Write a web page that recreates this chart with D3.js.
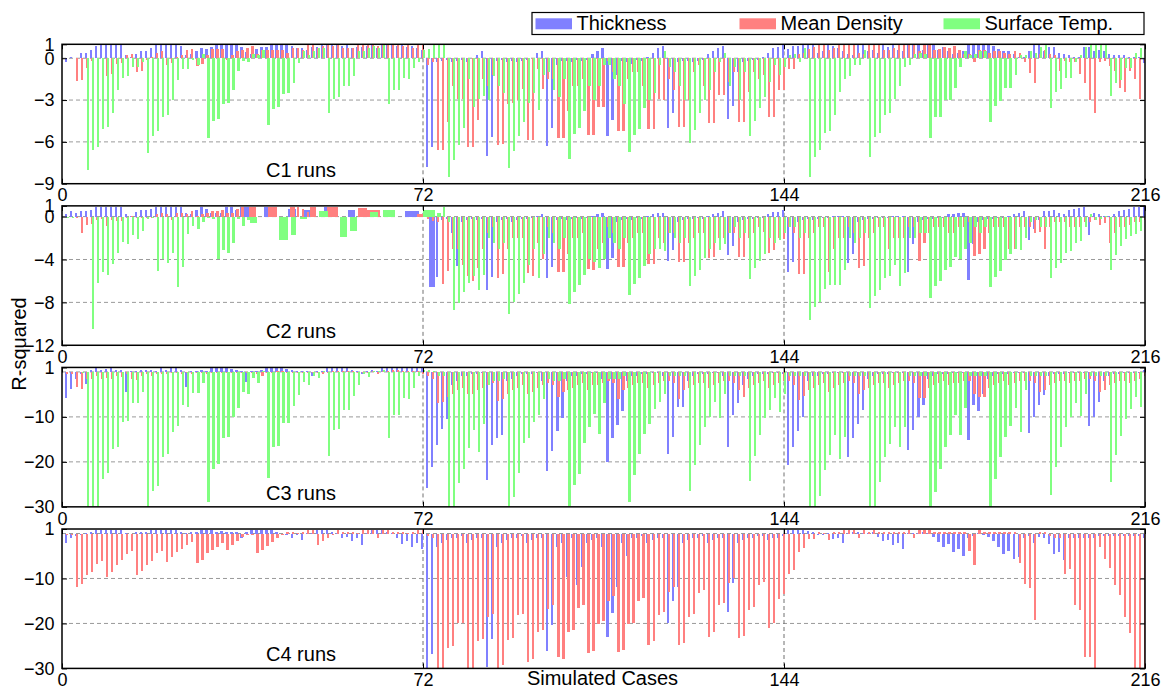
<!DOCTYPE html>
<html><head><meta charset="utf-8">
<script src="https://cdn.jsdelivr.net/npm/d3@7"></script>
<style>
body{margin:0;background:#fff}
text{font-family:"Liberation Sans",Arial,Helvetica,sans-serif;fill:#000}
</style>
</head><body>
<svg id="chart" width="1164" height="690"></svg>
<script>
// ---------------- DATA ----------------
const seriesNames = ["Thickness", "Mean Density", "Surface Temp."];
const panelLabels = ["C1 runs", "C2 runs", "C3 runs", "C4 runs"];
const xTickValues = [0, 72, 144, 216];
const yTicksC1 = [1, 0, -3, -6, -9];
const yTicksC2 = [1, 0, -4, -8, -12];
const yTicksC3 = [1, -10, -20, -30];
const yTicksC4 = [1, -10, -20, -30];
const caseNumbers = d3.range(1, 217);

// C1
const c1Thickness = [
-0.3,0.1,0,0.4,0.4,0.6,0.9,1.0,1.0,1.0,1.0,1.0,
0.2,0.1,0.3,0.5,0.5,0.7,1.0,1.0,1.0,1.0,1.0,0.9,
0.2,0.3,0.5,0.75,0.65,0.8,0.95,1.0,1.0,1.0,1.0,0.8,
0.45,0.3,0.65,0.8,0.8,1.0,1.0,1.0,1.0,0.9,0.75,0.75,
0.6,0.8,0.8,1.0,1.0,1.0,1.0,0.9,1.0,0.75,0.8,0.8,
0.9,1.0,0.75,1.0,1.0,1.0,0.9,1.0,0.8,0.9,0.75,0.6,
-7.8,-6.35,-0.3,-0.2,-0.1,-0.3,-0.2,-0.1,-0.3,0,0.2,0.5,
-7.0,-5.65,-0.2,-0.1,-0.3,-0.2,-0.3,-0.2,-0.1,0,0.35,0.5,
-6.3,-5.0,-0.5,-0.2,-0.2,-0.3,-0.1,-0.2,-0.1,0.3,0.5,0.7,
-5.6,-4.4,-1.2,-0.2,-0.3,-0.4,-0.1,-0.2,0.1,0.4,0.7,0.85,
-5.0,-3.9,-0.3,-0.2,-0.2,-0.3,-0.2,-0.1,0.3,0.5,0.7,0.9,
-4.35,-3.4,-1.0,-0.3,-0.2,-0.1,-0.1,0.1,0.4,0.75,0.8,1.0,
0.65,0.85,0.85,1.0,1.0,1.0,0.4,0.5,1.0,0.85,0.7,0.5,
0.3,0.2,1.0,1.0,0.5,0.6,0.4,1.0,0.8,1.0,0.6,0.5,
1.0,1.0,1.0,0.6,1.0,1.0,0.6,0.8,0.5,0.3,0.4,0.5,
1.0,1.0,1.0,1.0,1.0,0.85,0.65,0.5,0.5,0.3,0.1,0.1,
0.5,1.0,1.0,0.5,0.8,0.8,0.4,0.3,0.2,0.1,0.1,0.8,
0.8,0.5,0.6,0.5,0.3,0.2,0.25,0.2,0.1,0.1,0.1,-0.35];
const c1Density = [
0,0,-1.6,-1.55,-0.7,-0.2,0,0,-1.25,-1.1,-0.4,-0.35,
0.25,0.3,-1.0,-0.95,-0.15,0.1,0.4,0.5,-0.5,-0.35,0.1,0.2,
0.6,0.65,-0.55,-0.4,0.25,0.65,0.65,0.65,-0.1,0.2,0.55,0.6,
0.75,0.9,0.3,0.6,0.6,0.6,0.6,0.6,0.35,0.75,0.75,0.6,
1.0,1.0,0.7,0.85,1.0,0.85,1.0,0.7,0.7,0.7,1.0,1.0,
1.0,1.0,0.85,1.0,1.0,1.0,1.0,0.9,1.0,0.7,1.0,1.0,
-0.5,-0.3,-6.6,-6.6,-4.55,-2.0,-2.9,-2.9,-6.4,-6.35,-4.4,-1.5,
-2.0,-1.2,-6.2,-6.15,-3.3,-3.2,-3.0,-2.2,-5.85,-5.85,-0.8,-2.2,
-1.5,-1.5,-5.75,-5.75,-3.8,-2.0,-2.0,-1.5,-5.5,-5.5,-3.5,-3.5,
-0.2,-1.0,-5.25,-5.25,-1.5,-1.0,-1.0,-2.0,-5.05,-5.05,-2.95,-3.0,
-1.5,-2.3,-4.95,-4.95,-3.0,-1.0,-0.5,-2.0,-4.65,-4.65,-2.65,-2.65,
-1.7,-1.0,-4.55,-4.55,-2.4,-1.0,-1.5,-1.2,-4.25,-4.25,-2.3,-2.3,
-0.8,-0.75,0.3,0.4,0.65,0.8,1.0,1.0,0.6,0.7,1.0,1.0,
1.0,1.0,0.4,0.3,1.0,1.0,1.0,0.6,0.6,0.7,1.0,1.0,
1.0,1.0,0.5,1.0,1.0,0.6,0.65,0.8,0.7,0.85,0.6,0.3,
0.3,-0.3,0.6,0.6,0.4,0.5,0.5,0.4,0.3,0.55,0.35,-0.3,
-1.05,-1.75,0.3,0.6,0.3,0.2,-0.9,-0.2,-0.3,-0.25,-1.1,-1.75,
-3.0,-3.9,-0.3,-0.2,-0.55,-0.9,-2.1,-2.45,-0.95,-1.5,-2.9,-0.3];
const c1Temp = [
0,0,0,0,-8.0,-6.6,-6.35,-5.1,-4.95,-3.9,-2.3,-1.4,
-1.3,-0.65,-0.6,-0.3,-6.8,-5.55,-5.25,-4.2,-4.05,-3.0,-1.55,-0.75,
-0.75,-0.15,-0.5,0.3,-5.7,-4.5,-4.35,-3.3,-3.2,-2.3,-0.9,-0.2,
-0.25,0.3,0.25,0.6,-4.8,-3.65,-3.5,-2.6,-2.5,-1.75,-0.35,0.5,
0.2,0.55,0.7,0.7,-3.95,-2.95,-2.8,-2.0,-2.0,-1.25,0.5,0.5,
0.75,0.85,0.7,1.0,-3.25,-2.25,-2.25,-1.4,-1.5,-0.7,-0.25,0.6,
0.65,0.95,0.95,1.0,-8.55,-7.3,-6.2,-5.0,-1.5,-3.5,-2.9,-2.7,
-3.0,-1.3,-2.0,-2.5,-7.9,-6.65,-5.6,-4.55,-3.2,-2.5,-3.7,-1.2,
-1.0,-2.3,-2.8,-1.5,-7.25,-5.4,-5.0,-3.8,-2.0,-3.0,-2.0,-0.5,
-0.5,-1.5,-2.0,-3.3,-6.7,-5.5,-5.05,-3.55,-3.0,-2.5,-0.5,0.5,
-0.6,-1.0,-2.0,-3.0,-6.1,-5.15,-3.95,-3.0,-2.3,-1.0,-0.3,0.4,
-2.0,-0.6,-3.0,-1.0,-5.55,-4.5,-3.6,-2.75,-1.7,-0.5,-1.2,-0.6,
0.2,0.3,-0.3,0.75,-8.55,-7.1,-6.6,-5.35,-5.2,-4.05,-2.4,-1.5,
-1.3,-0.5,-0.5,0.6,-7.05,-5.65,-5.35,-4.1,-3.95,-2.95,-2.0,-0.65,
-0.5,0.3,0.4,0.3,-5.75,-4.2,-4.2,-3.0,-3.0,-2.1,-0.65,0.5,
0.2,0.3,0.5,0.5,-4.6,-3.45,-3.1,-2.15,-2.15,-1.2,0.2,0.2,
0.5,0.4,0.8,1.0,-3.55,-2.45,-2.2,-1.4,-1.4,-0.3,0.2,0.8,
1.0,1.0,1.0,1.0,-2.7,-1.75,-1.55,-0.7,-0.7,0.4,0.7,0.3];

// C2 (null = no value for that case)
const c2Thickness = [
0.2,0.55,0.3,0.55,0.5,0.65,0.85,0.85,0.85,0.85,0.85,0.85,
0.2,0.1,0.45,0.6,0.6,0.75,0.85,0.85,0.85,0.85,0.85,0.85,
0.3,0.2,0.65,0.85,0.7,0.3,0.3,0.3,0.85,0.85,0.6,0.85,
0.85,null,null,null,0.85,0.6,null,null,null,0.7,null,null,
0.6,null,null,null,0.85,0.7,null,null,null,0.65,null,0.5,
null,0.5,null,null,null,null,null,null,null,0.55,null,null,
null,-6.6,-5.6,-0.3,-0.2,-1.5,-4.6,-0.5,-0.3,-0.2,-0.3,-0.2,
-6.8,-5.6,-0.5,-0.3,-0.2,-0.5,-0.3,-0.2,-0.2,-0.1,0.1,0.2,
-5.75,-4.7,-0.3,-0.2,-0.3,-0.2,-0.1,-0.2,-0.1,0.1,0.2,0.3,
-4.85,-3.9,-0.5,-0.3,-0.2,-0.3,-0.1,-0.2,0.1,0.2,0.3,0.3,
-4.1,-3.15,-0.5,-0.3,-0.2,-0.2,-0.1,-0.2,0.1,0.2,0.3,0.5,
-3.55,-2.7,-0.5,-0.3,-0.2,-0.2,-0.1,-0.1,0.2,0.45,0.45,0.6,
-5.15,-4.2,-0.5,-0.3,-0.2,-0.3,-0.2,-0.1,-0.1,0.1,0.1,0.1,
-4.35,-3.5,-0.5,-0.3,-0.2,-0.2,-0.1,-0.1,-0.1,0.1,0.1,0.1,
-5.2,-2.6,-0.5,-0.3,-0.2,-0.2,-0.1,-0.1,0.2,0.2,0.3,0.3,
-5.9,-2.6,-0.5,-0.3,-0.2,-0.2,-0.1,-0.1,0.1,0.2,0.3,0.5,
-2.15,-1.2,-0.3,0.5,0.5,0.6,0.3,0.2,0.6,0.75,0.8,0.9,
-1.7,0.3,0.2,0.1,0.1,0.2,0.5,0.6,0.7,0.9,0.9,0.9];
const c2Density = [
0,0,-0.1,-1.55,-0.8,-0.7,-0.3,-0.2,-0.9,-0.3,-0.45,-0.45,
-0.1,0.1,-0.1,-0.1,-0.15,-0.15,0.2,0.35,0.2,-0.35,0.35,0.35,
0.2,0.55,0.1,0.2,0.3,0.55,0.55,0.65,0.3,0.3,0.75,0.9,
null,0.85,null,null,null,0.85,null,null,null,0.9,0.9,0.7,
0.4,0.9,null,null,null,0.9,null,null,null,null,null,0.8,
null,0.65,null,null,null,null,null,null,null,null,null,0.25,
-0.2,-0.4,-0.5,-6.3,-5.1,-3.0,-3.0,-4.5,-5.5,-6.05,-4.8,-3.0,
-1.5,-1.0,-5.75,-5.4,-3.0,-2.0,-2.0,-2.0,-5.3,-5.5,-2.5,-4.0,
-1.0,-1.5,-5.2,-5.2,-3.5,-2.0,-2.0,-1.5,-4.9,-5.0,-3.0,-2.5,
-1.0,-1.5,-4.7,-4.7,-2.5,-2.0,-1.5,-1.5,-4.4,-4.4,-2.0,-2.5,
-1.5,-1.5,-4.2,-4.2,-2.5,-2.0,-1.5,-1.5,-3.9,-3.8,-2.0,-2.0,
-1.5,-1.5,-3.75,-3.75,-2.0,-1.5,-1.0,-1.45,-3.35,-3.15,-2.0,-2.05,
-1.0,-1.5,-5.35,-5.35,-2.0,-1.5,-1.0,-1.0,-5.15,-3.0,-2.0,-2.0,
-1.0,-1.5,-4.75,-4.65,-2.0,-1.5,-1.0,-1.0,-3.0,-2.0,-2.0,-2.0,
-1.0,-1.0,-4.15,-2.5,-1.5,-1.0,-1.0,-1.0,-1.5,-1.5,-1.0,-1.0,
-0.5,-3.65,-3.5,-3.0,-1.5,-1.0,-1.0,-1.0,-3.0,-3.0,-1.0,-1.0,
-1.0,-1.5,-1.4,-3.05,-1.0,-0.5,-0.5,-0.5,-1.0,-1.0,-1.0,-0.5,
-0.5,-0.3,-0.75,-0.6,-2.5,-1.5,-1.0,-1.0,-0.8,-0.5,-0.5,-0.3];
const c2Temp = [
-0.1,-0.1,0,0,0,-10.5,-6.15,-5.15,-5.45,-4.4,-3.4,-2.35,
-2.6,-1.7,-2.05,-1.3,-0.2,-0.1,-5.1,-4.0,-4.3,-3.4,-6.6,-4.7,
-1.65,-0.9,-1.15,-0.5,-0.1,-0.2,-4.0,-3.1,-3.4,-2.5,-0.2,-0.85,
-0.3,-0.6,null,null,null,null,null,-2.15,null,-1.75,null,-0.2,
null,null,null,0.5,null,null,null,-1.9,null,-1.3,null,null,
null,0.4,null,null,0.65,null,null,null,null,null,null,null,
0.65,null,0.3,0.9,-0.5,-8.75,-8.05,-7.0,-6.15,-5.5,-6.8,-5.45,
-2.0,-2.5,-3.0,-2.5,-9.05,-7.95,-7.2,-6.15,-4.5,-3.0,-5.7,-3.5,
-2.0,-2.5,-3.0,-2.0,-8.15,-7.0,-6.4,-5.45,-4.0,-4.2,-4.75,-4.0,
-2.0,-2.5,-3.0,-2.0,-7.35,-6.3,-5.75,-4.6,-3.5,-3.0,-3.0,-3.2,
-1.5,-2.0,-2.5,-2.0,-6.5,-5.5,-5.0,-3.9,-3.0,-2.5,-3.1,-2.6,
-1.5,-1.0,-2.0,-1.5,-5.8,-4.75,-4.15,-3.45,-2.0,-2.45,-2.2,-1.5,
-1.0,-1.0,-2.0,-1.5,-9.65,-8.45,-7.95,-6.75,-6.35,-6.35,-6.35,-5.0,
-2.0,-2.5,-2.0,-1.5,-8.5,-7.45,-6.85,-5.75,-5.55,-4.5,-6.5,-5.25,
-2.0,-2.0,-1.5,-1.5,-7.6,-6.45,-6.0,-5.0,-4.7,-3.75,-3.95,-3.0,
-2.5,-1.0,-1.5,-1.0,-6.6,-5.6,-5.1,-4.05,-3.5,-3.0,-3.1,-2.0,
-0.5,-0.3,-1.0,-1.0,-5.75,-4.75,-4.3,-3.35,-3.2,-2.5,-2.3,-1.0,
0.2,-0.3,-0.2,0.1,-5.0,-3.55,-2.75,-2.1,-1.8,-1.6,-1.3,-1.0];

// C3
const c3Thickness = [
-5.9,-3.9,-1.5,-0.5,-2.6,0.5,0.8,0.5,0.6,0.8,0.5,0.5,
-4.4,0.2,0.3,0.5,0.5,0.4,0.3,0.8,0.5,0.9,0.8,0.5,
-3.3,0.2,0.3,0.5,0.3,0.8,0.8,0.8,0.8,0.6,0.5,0.3,
-2.2,0.3,0.3,0.5,0.8,0.8,0.8,0.8,0.6,0.5,0.3,0.3,
0.3,-0.8,0.3,0.3,0.8,0.8,0.8,0.8,0.8,0.5,0.3,-0.5,
0.3,0.5,0.3,0.8,0.8,0.8,0.8,0.8,0.8,0.8,0.8,0.8,
-25.9,-21.1,-16.3,-12.6,-10.4,-3.0,-2.0,-1.0,-1.0,-0.5,-0.5,-0.3,
-24.1,-16.3,-14.8,-14.1,-2.0,-1.5,-1.0,-0.5,-0.5,-0.5,-0.3,-2.0,
-22.0,-17.6,-13.2,-10.2,-2.0,-1.0,-1.0,-0.5,-0.5,-0.3,-0.3,-1.5,
-20.1,-14.8,-11.9,-8.7,-2.0,-1.0,-1.0,-0.5,-0.5,-0.3,-0.3,-1.0,
-18.3,-14.4,-7.8,-7.8,-2.0,-1.0,-0.5,-0.5,-0.5,-0.3,-0.3,-1.0,
-16.8,-9.5,-6.9,-3.0,-1.5,-1.0,-0.5,-0.5,-0.5,-0.3,-0.3,-0.5,
-20.7,-16.7,-13.1,-10.0,-2.0,-1.0,-1.0,-0.5,-0.5,-0.3,-0.3,-0.3,
-18.9,-14.8,-11.5,-8.5,-1.5,-1.0,-0.5,-0.5,-0.5,-0.3,-0.3,-0.3,
-17.3,-13.0,-10.0,-7.4,-1.5,-1.0,-0.5,-0.5,-0.5,-0.3,-0.3,-0.3,
-15.2,-7.4,-8.7,-5.0,-1.5,-1.0,-0.5,-0.5,-0.5,-0.3,-0.3,-0.3,
-13.5,-10.1,-7.4,-5.2,-1.0,-0.5,-0.5,-0.5,-0.3,-0.3,-0.3,-0.3,
-12.0,-10.0,-6.7,-2.0,-1.0,-0.5,-0.5,-0.3,-0.3,-0.3,-0.3,0.5];
const c3Density = [
-0.5,-0.5,-3.3,-3.7,-1.5,-1.5,-1.0,-1.5,-1.3,-1.5,-1.0,-1.2,
-0.5,-1.5,-1.8,-1.0,-0.5,-0.8,-0.5,-0.5,-0.5,-0.3,-0.3,-0.5,
-0.3,-0.5,-0.3,-0.3,-0.5,-0.3,-0.2,-0.3,-0.3,-0.2,-0.2,-0.3,
-0.2,-0.2,-0.4,-0.9,-0.3,-0.2,0.2,0.2,-0.2,-0.2,-0.2,-0.3,
-0.2,-0.2,-0.2,-0.5,-0.2,0.2,0.2,0.2,0.2,0.1,-0.2,-0.2,
-0.2,0.3,-0.5,0.3,0.3,0.5,0.5,0.3,0.2,0.2,0.3,-0.5,
-1.0,-1.5,-6.9,-6.7,-5.5,-5.0,-4.0,-3.5,-5.0,-5.0,-4.0,-3.5,
-3.0,-2.5,-6.5,-6.0,-5.0,-4.0,-3.5,-3.0,-5.0,-4.5,-3.5,-3.0,
-2.5,-3.0,-5.5,-4.5,-4.0,-3.5,-3.0,-2.5,-4.0,-3.0,-3.0,-2.5,
-2.0,-2.5,-6.0,-4.0,-3.5,-3.0,-2.5,-2.5,-3.5,-3.0,-2.5,-2.0,
-2.0,-2.5,-6.0,-4.0,-3.5,-3.0,-2.5,-2.5,-3.5,-3.0,-2.5,-2.0,
-2.0,-2.5,-4.0,-5.5,-3.5,-3.0,-2.5,-2.0,-3.5,-3.0,-2.5,-2.0,
-2.0,-3.0,-6.3,-5.3,-4.0,-3.5,-3.0,-2.5,-4.5,-3.5,-3.0,-2.5,
-2.0,-2.5,-5.0,-4.0,-3.5,-3.0,-2.5,-2.5,-3.5,-3.0,-2.5,-2.0,
-2.0,-2.5,-5.8,-5.8,-3.5,-3.0,-2.5,-2.0,-3.0,-2.5,-2.5,-2.0,
-2.0,-5.0,-5.5,-5.5,-3.5,-3.0,-2.5,-2.0,-3.0,-2.5,-2.0,-2.0,
-2.0,-2.5,-4.5,-4.0,-3.0,-2.5,-2.0,-2.0,-2.5,-2.0,-2.0,-1.5,
-1.5,-2.0,-4.5,-4.0,-3.0,-2.5,-2.0,-2.0,-2.5,-2.0,-1.5,-1.0];
const c3Temp = [
0,0,0,-0.3,-30,-30,-30,-23.7,-22.4,-17.2,-16.7,-11.1,
-10.8,-7.0,-7.0,-4.4,-30,-26.5,-25.3,-18.9,-18.3,-13.3,-12.0,-7.25,
-7.8,-4.6,-4.6,-2.4,-28.9,-21.5,-20.4,-14.8,-14.4,-10.0,-8.1,-4.4,
-4.8,-1.3,-2.4,0.2,-23.6,-16.8,-16.4,-11.3,-11.3,-7.55,-5.2,-2.2,
-2.8,-1.0,-1.3,0.3,-18.7,-12.9,-12.6,-8.5,-8.4,-5.3,-3.0,-0.4,
-1.1,0.2,0.3,0.5,-14.7,-9.6,-9.6,-5.8,-6.1,-3.5,-1.0,0.5,
0.5,0.3,-1.0,-1.0,-30,-30,-24.8,-21.5,-16.9,-13.0,-17.8,-11.5,
-3.0,-2.0,-2.0,-1.5,-29.8,-27.8,-22.4,-15.9,-14.8,-11.1,-9.6,-6.0,
-1.5,-2.0,-2.0,-1.5,-29.8,-25.2,-22.6,-15.9,-12.2,-9.3,-13.9,-7.0,
-1.5,-1.5,-1.5,-1.0,-29.0,-22.9,-18.3,-13.9,-11.5,-8.3,-6.7,-5.0,
-1.0,-1.0,-1.0,-1.0,-26.5,-20.7,-16.3,-12.2,-10.0,-6.7,-10.2,-5.0,
-1.0,-1.0,-1.0,-1.0,-24.2,-18.7,-14.1,-10.2,-8.4,-5.7,-8.9,-5.0,
-1.0,-1.0,-1.0,-1.0,-30,-30,-27.6,-21.9,-18.5,-14.1,-19.3,-14.4,
-1.0,-1.0,-1.0,-1.0,-30,-30,-24.4,-18.9,-16.1,-12.2,-16.7,-12.2,
-1.0,-1.0,-1.0,-1.0,-30,-26.7,-21.5,-16.7,-14.1,-9.6,-14.1,-8.1,
-1.0,-1.0,-1.0,-1.0,-30,-23.7,-18.9,-14.4,-12.0,-8.1,-13.3,-4.0,
-1.0,-1.0,-1.0,-1.0,-27.3,-21.1,-16.7,-12.2,-10.0,-7.0,-9.85,-5.0,
-1.0,-1.0,-1.0,-1.0,-24.4,-18.5,-14.3,-10.4,-8.3,-5.6,-7.9,-1.0];

// C4 (no Surface Temp. bars in this panel)
const c4Thickness = [
-2.0,-0.9,-0.5,-0.3,0.1,0.4,0.8,0.8,0.8,0.8,0.8,0.8,
0.1,0.0,0.3,0.4,0.4,0.8,0.8,0.8,0.8,0.8,0.8,0.3,
0.1,0.4,0.4,0.8,0.8,0.8,0.4,0.6,0.4,0.4,0.4,-1.1,
0.4,0.8,0.8,0.8,0.8,0.8,0.4,0.0,-0.4,-0.9,-0.4,-1.4,
0.2,0.2,0.8,0.8,0.8,0.4,0.2,-1.1,-0.7,-1.6,-1.1,-2.5,
0.2,0.8,0.8,0.8,0.3,0.2,-0.9,-2.4,-1.6,-2.9,-2.2,-3.5,
-30,-26.8,-3.0,-2.0,-1.5,-1.0,-1.0,-0.5,-2.0,-1.5,-1.0,-1.0,
-29.6,-23.5,-3.0,-2.0,-1.5,-1.0,-1.0,-0.5,-2.0,-1.5,-1.0,-1.0,
-26.1,-20.4,-3.0,-2.0,-9.7,-1.0,-11.5,-7.5,-2.0,-1.5,-1.0,-3.0,
-23.0,-17.6,-12.0,-2.0,-5.0,-1.0,-1.0,-0.5,-2.0,-1.5,-1.0,-1.0,
-20.0,-15.1,-12.0,-2.0,-1.5,-1.0,-1.0,-0.5,-2.0,-1.5,-1.0,-1.0,
-17.4,-11.0,-2.0,-1.5,-1.0,-1.0,-0.5,-0.5,-1.5,-1.0,-1.0,-0.5,
0.8,0.8,0.8,0.8,0.6,0.4,-0.3,-0.4,0.2,-1.25,-0.9,-2.0,
0.2,0.3,0.3,0.2,0.2,0.3,-0.7,-1.6,-1.4,-2.6,-2.2,-3.5,
0.2,0.2,0.2,0.3,0.2,-0.7,-1.8,-3.1,-2.4,-4.2,-3.5,-5.1,
-1.0,-0.5,0.2,-0.4,-0.7,-1.6,-3.1,-4.6,-4.0,-5.7,-5.3,-1.0,
-0.5,-2.0,-0.7,-0.9,-2.4,-4.6,-4.2,-6.0,-1.0,-1.0,-1.0,-1.0,
-1.0,-1.0,-0.5,-0.5,-0.5,-0.5,-0.5,-0.5,-0.5,-0.5,-0.5,-1.0];
const c4Density = [
-0.3,-0.3,-11.9,-11.3,-9.3,-8.6,-6.8,-6.2,-9.6,-8.5,-7.1,-5.9,
-4.6,-4.0,-9.3,-8.4,-6.9,-6.2,-4.4,-4.0,-6.4,-5.3,-4.2,-3.5,
-2.5,-1.8,-6.6,-5.9,-4.4,-3.7,-3.1,-2.0,-3.7,-2.6,-1.6,-0.7,
-0.3,-0.3,-4.4,-3.7,-2.7,-1.8,-0.9,-0.4,0.3,0.3,0.2,0.3,
0.8,0.8,-2.5,-1.6,-0.9,-0.4,0.8,0.4,0.4,0.3,0.2,0.8,
0.8,0.8,-0.9,0.8,0.8,0.4,0.3,0.3,0.2,0.3,0.8,0.8,
-0.5,-1.0,-30,-30,-25.4,-25.1,-20.0,-19.8,-30,-30,-24.0,-23.5,
-18.5,-18.0,-30,-29.3,-23.7,-23.2,-18.2,-17.9,-28.5,-27.9,-22.0,-21.5,
-16.7,-16.0,-27.4,-27.9,-21.8,-21.5,-16.5,-16.0,-26.6,-26.1,-20.2,-19.5,
-15.0,-14.0,-26.4,-26.0,-20.1,-19.9,-14.9,-14.3,-24.9,-24.0,-18.1,-17.4,
-13.0,-12.0,-24.8,-24.4,-18.5,-18.0,-13.2,-12.6,-23.0,-22.0,-16.0,-15.4,
-11.0,-10.0,-23.3,-22.8,-16.9,-16.3,-11.4,-10.8,-21.1,-20.0,-14.5,-13.4,
-9.0,-8.1,-4.2,-3.3,-1.3,-1.3,0.3,0.2,-1.5,0.3,0.3,0.8,
0.8,0.8,-0.9,0.8,0.4,0.8,0.4,0.3,0.3,0.4,0.4,0.3,
0.8,-1.1,0.8,0.8,0.8,0.3,0.3,0.3,0.3,0.3,0.3,0.3,
-3.8,-7.0,0.8,0.3,0.3,0.3,0.3,0.3,0.3,0.3,-6.5,-11.2,
-12.1,-19.3,0.3,0.3,-0.5,-1.0,-1.0,-9.0,-7.9,-15.8,-17.1,-27.4,
-27.4,-30,-3.1,-5.7,-7.7,-11.5,-13.6,-18.5,-22.2,-30,-30,-30];
const c4Temp = null;

// ---------------- DRAWING ----------------
const colors = ["#8080ff", "#ff8080", "#80ff80"];
const seriesOffset = [-0.2, 0, 0.2];
const REL = 0.45;
const svg = d3.select("#chart");
const left = 62, right = 1145;
const x = d3.scaleLinear().domain([0, 216]).range([left, right]);

const panels = [
  {series: [c1Thickness, c1Density, c1Temp], domain: [-9, 1], ticks: yTicksC1, grid: [0, -3, -6], label: panelLabels[0]},
  {series: [c2Thickness, c2Density, c2Temp], domain: [-12, 1], ticks: yTicksC2, grid: [0, -4, -8], label: panelLabels[1]},
  {series: [c3Thickness, c3Density, c3Temp], domain: [-30, 1], ticks: yTicksC3, grid: [0, -10, -20], label: panelLabels[2]},
  {series: [c4Thickness, c4Density, c4Temp], domain: [-30, 1], ticks: yTicksC4, grid: [0, -10, -20], label: panelLabels[3]}
];

// gnuplot-like relative box widths: based on spacing to neighbouring existing points
function boxWidths(vals) {
  const idx = [];
  vals.forEach((v, i) => { if (v !== null && v !== undefined) idx.push(i); });
  const w = new Array(vals.length).fill(null);
  idx.forEach((i, j) => {
    const prev = j > 0 ? idx[j - 1] : null, next = j < idx.length - 1 ? idx[j + 1] : null;
    let span;
    if (prev !== null && next !== null) span = (next - prev) / 2;
    else if (prev !== null) span = i - prev;
    else if (next !== null) span = next - i;
    else span = 1;
    w[i] = REL * span;
  });
  return w;
}

const defs = svg.append("defs");
const panelTop0 = 44.3, panelStep = 161.57, panelH = 139.4;
const tickFont = 18;

panels.forEach((p, pi) => {
  const top = panelTop0 + pi * panelStep, bottom = top + panelH;
  const y = d3.scaleLinear().domain(p.domain).range([bottom, top]);
  const g = svg.append("g");
  const clipId = "clip" + pi;
  defs.append("clipPath").attr("id", clipId).append("rect")
    .attr("x", left).attr("y", top).attr("width", right - left).attr("height", bottom - top);

  // grid
  const grid = g.append("g").attr("stroke", "#9a9a9a").attr("stroke-width", 1).attr("stroke-dasharray", "4,3");
  p.grid.forEach(v => grid.append("line").attr("x1", left).attr("x2", right).attr("y1", y(v)).attr("y2", y(v)));
  [72, 144].forEach(v => grid.append("line").attr("stroke", "#707070")
    .attr("x1", x(v)).attr("x2", x(v)).attr("y1", top).attr("y2", bottom));

  // bars
  const barsG = g.append("g").attr("clip-path", `url(#${clipId})`);
  p.series.forEach((vals, si) => {
    if (!vals) return;
    const w = boxWidths(vals);
    const data = vals.map((v, i) => ({v, i, w: w[i]})).filter(d => d.v !== null && d.v !== 0);
    barsG.append("g").selectAll("rect").data(data).enter().append("rect")
      .attr("x", d => x(caseNumbers[d.i] + seriesOffset[si] - d.w / 2))
      .attr("width", d => x(d.w) - x(0))
      .attr("y", d => y(Math.max(0, d.v)))
      .attr("height", d => Math.abs(y(d.v) - y(0)))
      .attr("fill", colors[si])
      .attr("shape-rendering", "crispEdges");
  });

  // axes
  const yAxis = d3.axisLeft(y).tickValues(p.ticks).tickFormat(d3.format("d")).tickSizeInner(-5).tickSizeOuter(0).tickPadding(7.5);
  const ya = g.append("g").attr("transform", `translate(${left},0)`).call(yAxis);
  const yAxisR = d3.axisRight(y).tickValues(p.ticks).tickFormat("").tickSizeInner(-5).tickSizeOuter(0);
  const yr = g.append("g").attr("transform", `translate(${right},0)`).call(yAxisR);
  const xAxis = d3.axisBottom(x).tickValues(xTickValues).tickFormat(d3.format("d")).tickSizeInner(-5).tickSizeOuter(0).tickPadding(5);
  const xa = g.append("g").attr("transform", `translate(0,${bottom})`).call(xAxis);
  const xAxisT = d3.axisTop(x).tickValues(xTickValues).tickFormat("").tickSizeInner(-5).tickSizeOuter(0);
  const xt = g.append("g").attr("transform", `translate(0,${top})`).call(xAxisT);
  [ya, yr, xa, xt].forEach(a => {
    a.select(".domain").remove();
    a.selectAll("line").attr("stroke", "#000");
    a.selectAll("text").attr("font-size", tickFont).attr("font-family", '"Liberation Sans",Arial,sans-serif').attr("fill", "#000");
  });

  // frame
  g.append("rect").attr("x", left).attr("y", top).attr("width", right - left).attr("height", bottom - top)
    .attr("fill", "none").attr("stroke", "#000").attr("stroke-width", 1.5);

  // panel label
  g.append("text").attr("x", 266).attr("y", bottom - 7).attr("font-size", 20).text(p.label);
});

// axis titles
svg.append("text").attr("transform", "translate(26,344) rotate(-90)").attr("text-anchor", "middle")
  .attr("font-size", 20).text("R-squared");
svg.append("text").attr("x", 602.5).attr("y", 685).attr("text-anchor", "middle")
  .attr("font-size", 20).text("Simulated Cases");

// legend
const legend = svg.append("g");
legend.append("rect").attr("x", 532).attr("y", 12.5).attr("width", 612).attr("height", 22)
  .attr("fill", "#fff").attr("stroke", "#000").attr("stroke-width", 1.2);
const legendX = [535.5, 739.5, 943.5];
seriesNames.forEach((name, i) => {
  legend.append("rect").attr("x", legendX[i]).attr("y", 18.3).attr("width", 36.5).attr("height", 11).attr("fill", colors[i]);
  legend.append("text").attr("x", legendX[i] + 41).attr("y", 30).attr("font-size", 20).text(name);
});
</script>
</body></html>
